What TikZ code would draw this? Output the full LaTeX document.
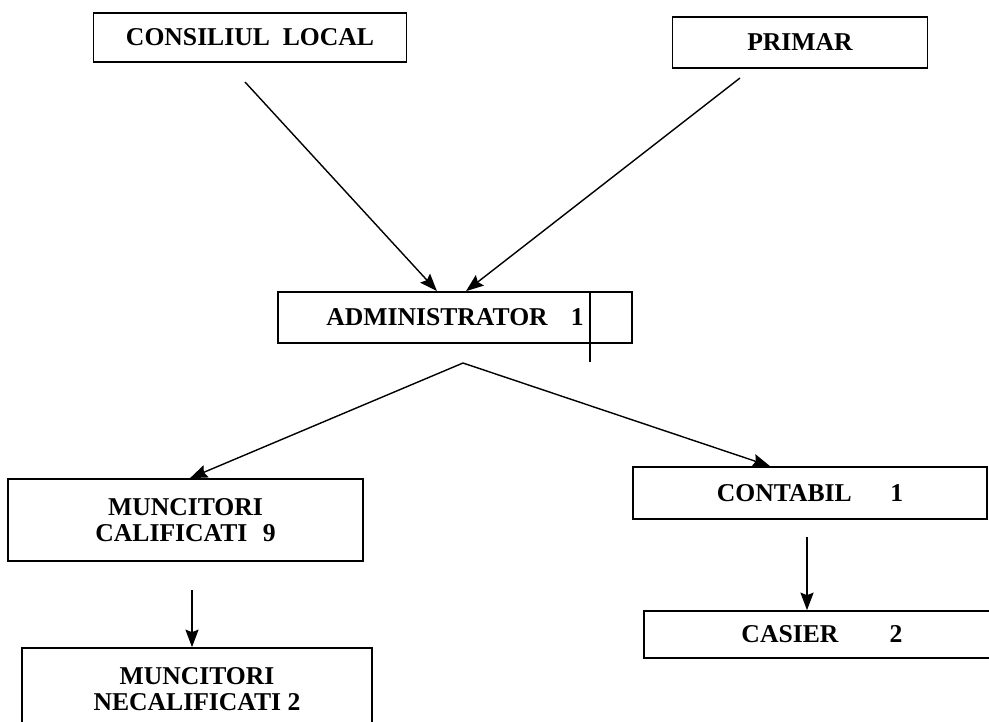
\documentclass[tikz,border=0pt]{standalone}
\usepackage{fontspec}
\setmainfont{Liberation Serif}
\usepackage{tikz}
\usetikzlibrary{arrows.meta,positioning}
\tikzstyle{arrow} = [line width=0.8pt,-{Stealth[length=10pt,width=7.5pt,inset=1.5pt]}]
\tikzstyle{orgbox} = [rectangle, draw, line width=1pt, inner sep=0pt,
    font=\fontsize{14.6}{15}\selectfont\bfseries, align=center]

\begin{document}
\begin{tikzpicture}[x=0.02cm, y=-0.02cm]
\useasboundingbox (0,0) rectangle (989,721);
\node[orgbox, minimum width=6.26cm, minimum height=0.98cm] (cl) at (250,37.5) {CONSILIUL\hspace{0.5em}LOCAL};
\node[orgbox, minimum width=5.1cm, minimum height=1.02cm] (pr) at (800,42.5) {PRIMAR};
\node[orgbox, minimum width=7.08cm, minimum height=1.02cm] (adm) at (455,317.5) {ADMINISTRATOR\hspace{0.9em}1};
\node[orgbox, minimum width=7.1cm, minimum height=1.64cm] (calif) at (185.5,520) {MUNCITORI\\CALIFICATI\hspace{0.6em}9};
\node[orgbox, minimum width=7cm, minimum height=1.64cm] (necalif) at (197,689) {MUNCITORI\\NECALIFICATI 2};
\node[orgbox, minimum width=7.08cm, minimum height=1.04cm] (cont) at (810,493) {CONTABIL\hspace{1.5em}1};
\node[orgbox, minimum width=7.12cm, minimum height=0.94cm] (cas) at (822,634.5) {CASIER\hspace{2em}2};

\coordinate (clout) at (245,82);
\coordinate (prout) at (740,78);
\coordinate (split) at (463,363);
\coordinate (califout) at (192,590);
\coordinate (contout) at (807,537);

\draw[line width=1pt] (590,0 |- adm.north) -- (590,362);

\draw[arrow] (clout) -- (437,0 |- adm.north);
\draw[arrow] (prout) -- (466,0 |- adm.north);
\draw[arrow] (split) -- (190,0 |- calif.north);
\draw[arrow] (split) -- (770,0 |- cont.north);
\draw[arrow] (califout) -- (califout |- necalif.north);
\draw[arrow] (contout) -- (contout |- cas.north);
\end{tikzpicture}
\end{document}
